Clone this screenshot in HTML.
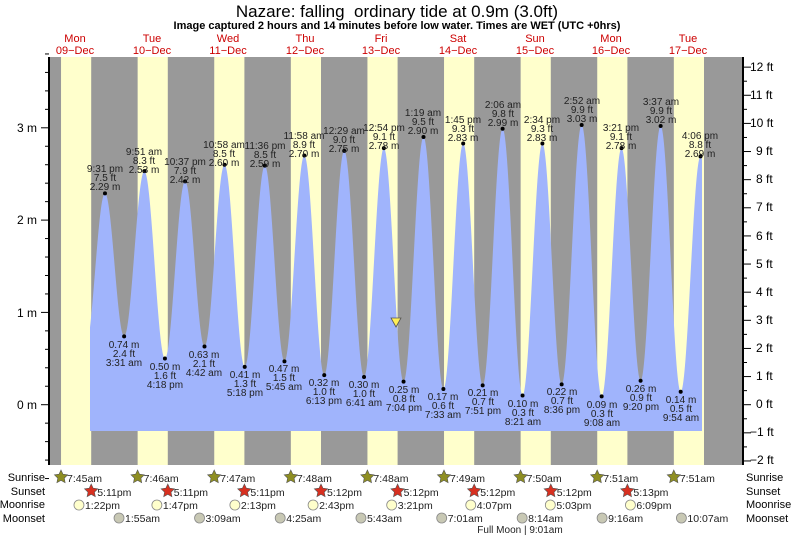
<!DOCTYPE html>
<html><head><meta charset="utf-8"><style>
html,body{margin:0;padding:0;background:#fff}
svg{display:block;font-family:"Liberation Sans",sans-serif}
</style></head><body>
<svg id="s" width="793" height="539" viewBox="0 0 793 539" xmlns="http://www.w3.org/2000/svg">
<rect x="49" y="57" width="694" height="408" fill="#999999"/>
<g id="bands"></g>
<path id="tide" fill="#a0b4fc" d=""/>
<g id="ticks" stroke="#000" stroke-width="1"></g>
<line x1="49" y1="57" x2="49" y2="465" stroke="#000" stroke-width="2"/>
<line x1="743" y1="57" x2="743" y2="465" stroke="#000" stroke-width="2"/>
<g id="dots" fill="#000"></g>
<polygon points="391,318 401,318 396,327" fill="#ffee55" stroke="#555" stroke-width="0.8"/>
<text x="397" y="17" font-size="17" text-anchor="middle">Nazare: falling&#160; ordinary tide at 0.9m (3.0ft)</text>
<text x="397" y="29" font-size="11" font-weight="bold" text-anchor="middle">Image captured 2 hours and 14 minutes before low water. Times are WET (UTC +0hrs)</text>
<g font-size="11" fill="#cc0000" text-anchor="middle">
<text x="75" y="42">Mon</text><text x="75" y="54">09−Dec</text>
<text x="152" y="42">Tue</text><text x="152" y="54">10−Dec</text>
<text x="228" y="42">Wed</text><text x="228" y="54">11−Dec</text>
<text x="305" y="42">Thu</text><text x="305" y="54">12−Dec</text>
<text x="381" y="42">Fri</text><text x="381" y="54">13−Dec</text>
<text x="458" y="42">Sat</text><text x="458" y="54">14−Dec</text>
<text x="535" y="42">Sun</text><text x="535" y="54">15−Dec</text>
<text x="611" y="42">Mon</text><text x="611" y="54">16−Dec</text>
<text x="688" y="42">Tue</text><text x="688" y="54">17−Dec</text>
</g>
<g font-size="12" text-anchor="end">
<text x="37" y="132">3 m</text><text x="37" y="224">2 m</text><text x="37" y="317">1 m</text><text x="37" y="409">0 m</text>
</g>
<g font-size="12">
<text x="750" y="71">12 ft</text><text x="750" y="99">11 ft</text><text x="750" y="127">10 ft</text>
<text x="756" y="155">9 ft</text><text x="756" y="183">8 ft</text><text x="756" y="211">7 ft</text>
<text x="756" y="240">6 ft</text><text x="756" y="268">5 ft</text><text x="756" y="296">4 ft</text>
<text x="756" y="324">3 ft</text><text x="756" y="352">2 ft</text><text x="756" y="380">1 ft</text>
<text x="756" y="408">0 ft</text><text x="750" y="436">−1 ft</text><text x="750" y="464">−2 ft</text>
</g>
<g font-size="10" fill="#222" text-anchor="middle" id="labels">
<text x="105" y="172">9:31 pm</text><text x="105" y="181">7.5 ft</text><text x="105" y="190">2.29 m</text>
<text x="124" y="348">0.74 m</text><text x="124" y="357">2.4 ft</text><text x="124" y="366">3:31 am</text>
<text x="144" y="155">9:51 am</text><text x="144" y="164">8.3 ft</text><text x="144" y="173">2.53 m</text>
<text x="165" y="370">0.50 m</text><text x="165" y="379">1.6 ft</text><text x="165" y="388">4:18 pm</text>
<text x="185" y="165">10:37 pm</text><text x="185" y="174">7.9 ft</text><text x="185" y="183">2.42 m</text>
<text x="204" y="358">0.63 m</text><text x="204" y="367">2.1 ft</text><text x="204" y="376">4:42 am</text>
<text x="224" y="148">10:58 am</text><text x="224" y="157">8.5 ft</text><text x="224" y="166">2.60 m</text>
<text x="245" y="378">0.41 m</text><text x="245" y="387">1.3 ft</text><text x="245" y="396">5:18 pm</text>
<text x="265" y="149">11:36 pm</text><text x="265" y="158">8.5 ft</text><text x="265" y="167">2.59 m</text>
<text x="284" y="372">0.47 m</text><text x="284" y="381">1.5 ft</text><text x="284" y="390">5:45 am</text>
<text x="304" y="139">11:58 am</text><text x="304" y="148">8.9 ft</text><text x="304" y="157">2.70 m</text>
<text x="324" y="386">0.32 m</text><text x="324" y="395">1.0 ft</text><text x="324" y="404">6:13 pm</text>
<text x="344" y="134">12:29 am</text><text x="344" y="143">9.0 ft</text><text x="344" y="152">2.75 m</text>
<text x="364" y="388">0.30 m</text><text x="364" y="397">1.0 ft</text><text x="364" y="406">6:41 am</text>
<text x="384" y="131">12:54 pm</text><text x="384" y="140">9.1 ft</text><text x="384" y="149">2.78 m</text>
<text x="404" y="393">0.25 m</text><text x="404" y="402">0.8 ft</text><text x="404" y="411">7:04 pm</text>
<text x="423" y="116">1:19 am</text><text x="423" y="125">9.5 ft</text><text x="423" y="134">2.90 m</text>
<text x="443" y="400">0.17 m</text><text x="443" y="409">0.6 ft</text><text x="443" y="418">7:33 am</text>
<text x="463" y="123">1:45 pm</text><text x="463" y="132">9.3 ft</text><text x="463" y="141">2.83 m</text>
<text x="483" y="396">0.21 m</text><text x="483" y="405">0.7 ft</text><text x="483" y="414">7:51 pm</text>
<text x="503" y="108">2:06 am</text><text x="503" y="117">9.8 ft</text><text x="503" y="126">2.99 m</text>
<text x="523" y="407">0.10 m</text><text x="523" y="416">0.3 ft</text><text x="523" y="425">8:21 am</text>
<text x="542" y="123">2:34 pm</text><text x="542" y="132">9.3 ft</text><text x="542" y="141">2.83 m</text>
<text x="562" y="395">0.22 m</text><text x="562" y="404">0.7 ft</text><text x="562" y="413">8:36 pm</text>
<text x="582" y="104">2:52 am</text><text x="582" y="113">9.9 ft</text><text x="582" y="122">3.03 m</text>
<text x="602" y="408">0.09 m</text><text x="602" y="417">0.3 ft</text><text x="602" y="426">9:08 am</text>
<text x="621" y="131">3:21 pm</text><text x="621" y="140">9.1 ft</text><text x="621" y="149">2.78 m</text>
<text x="641" y="392">0.26 m</text><text x="641" y="401">0.9 ft</text><text x="641" y="410">9:20 pm</text>
<text x="661" y="105">3:37 am</text><text x="661" y="114">9.9 ft</text><text x="661" y="123">3.02 m</text>
<text x="681" y="403">0.14 m</text><text x="681" y="412">0.5 ft</text><text x="681" y="421">9:54 am</text>
<text x="700" y="139">4:06 pm</text><text x="700" y="148">8.8 ft</text><text x="700" y="157">2.69 m</text>
</g>
<g font-size="11" text-anchor="end">
<text x="45" y="481">Sunrise</text><text x="45" y="495">Sunset</text><text x="45" y="508">Moonrise</text><text x="45" y="522">Moonset</text>
</g>
<g font-size="11">
<text x="746" y="481">Sunrise</text><text x="746" y="495">Sunset</text><text x="746" y="508">Moonrise</text><text x="746" y="522">Moonset</text>
</g>
<g id="astro" font-size="10.5" fill="#222"></g>
<text x="520" y="533" font-size="10" fill="#222" text-anchor="middle">Full Moon | 9:01am</text>
</svg>
<script>
(function(){
var NS="http://www.w3.org/2000/svg";
function el(p,t,a,txt){var e=document.createElementNS(NS,t);for(var k in a)e.setAttribute(k,a[k]);if(txt)e.textContent=txt;document.getElementById(p).appendChild(e);return e;}
var B=36.3,D=76.6,S=D/24;
function X(d,h){return B+D*d+h*S;}
function Y(m){return 404.7-92.3*m;}
for(var d=0;d<9;d++){var a=X(d,7.75),b=X(d,17.2);el("bands","rect",{x:a,y:57,width:b-a,height:408,fill:"#ffffcc"});}
var E=[[0,15.3,0.6],[0,21.517,2.29],[1,3.517,0.74],[1,9.85,2.53],[1,16.3,0.50],[1,22.617,2.42],[2,4.7,0.63],[2,10.967,2.60],[2,17.3,0.41],[2,23.6,2.59],[3,5.75,0.47],[3,11.967,2.70],[3,18.217,0.32],[4,0.483,2.75],[4,6.683,0.30],[4,12.9,2.78],[4,19.067,0.25],[5,1.317,2.90],[5,7.55,0.17],[5,13.75,2.83],[5,19.85,0.21],[6,2.1,2.99],[6,8.35,0.10],[6,14.567,2.83],[6,20.6,0.22],[7,2.867,3.03],[7,9.133,0.09],[7,15.35,2.78],[7,21.333,0.26],[8,3.617,3.02],[8,9.9,0.14],[8,16.1,2.69],[8,22.3,0.2]];
var P=E.map(function(e){return [X(e[0],e[1]),e[2]];});
var x0=90,x1=702,pts=[];
for(var x=x0;x<=x1;x+=0.5){
 for(var i=0;i<P.length-1;i++){if(x>=P[i][0]&&x<=P[i+1][0])break;}
 var p=P[i],q=P[i+1],t=(x-p[0])/(q[0]-p[0]);
 var m=p[1]+(q[1]-p[1])*(1-Math.cos(Math.PI*t))/2;
 pts.push(x.toFixed(1)+","+Y(m).toFixed(1));
}
document.getElementById("tide").setAttribute("d","M"+x0+",431 L"+pts.join(" L")+" L"+x1+",431 Z");
for(var i=1;i<P.length-1;i++)el("dots","circle",{cx:P[i][0],cy:Y(P[i][1]),r:2});
for(var v=-0.8;v<=3.81;v+=0.2){var y=Y(v),maj=Math.abs(v-Math.round(v))<0.01;el("ticks","line",{x1:maj?41:45,x2:49,y1:y,y2:y});}
for(var f=-2;f<=12.01;f+=0.5){var y=404.7-28.13*f,maj=Math.abs(f-Math.round(f))<0.01;el("ticks","line",{x1:743,x2:maj?751:747,y1:y,y2:y});}
function star(cx,cy,col){var s="";for(var k=0;k<10;k++){var r=k%2?3.4:7,a=-Math.PI/2+k*Math.PI/5;s+=(cx+r*Math.cos(a)).toFixed(1)+","+(cy+r*Math.sin(a)).toFixed(1)+" ";}el("astro","polygon",{points:s,fill:col,stroke:"#555","stroke-width":0.6});}
var sr=["7:45am","7:46am","7:47am","7:48am","7:48am","7:49am","7:50am","7:51am","7:51am"];
for(var d=0;d<9;d++){var x=X(d,7.75);star(x,477,"#8e8e22");el("astro","text",{x:x+6,y:482},sr[d]);}
var ss=["5:11pm","5:11pm","5:11pm","5:12pm","5:12pm","5:12pm","5:12pm","5:13pm"];
for(var d=0;d<8;d++){var x=X(d,17.2);star(x,491,"#d83020");el("astro","text",{x:x+6,y:496},ss[d]);}
var mr=[[13.37,"1:22pm"],[13.78,"1:47pm"],[14.22,"2:13pm"],[14.72,"2:43pm"],[15.35,"3:21pm"],[16.12,"4:07pm"],[17.05,"5:03pm"],[18.15,"6:09pm"]];
for(var d=0;d<8;d++){var x=X(d,mr[d][0]);el("astro","circle",{cx:x,cy:505,r:5,fill:"#ffffcc",stroke:"#888","stroke-width":0.8});el("astro","text",{x:x+6,y:509},mr[d][1]);}
var ms=[[1.92,"1:55am"],[3.15,"3:09am"],[4.42,"4:25am"],[5.72,"5:43am"],[7.02,"7:01am"],[8.23,"8:14am"],[9.27,"9:16am"],[10.12,"10:07am"]];
for(var d=0;d<8;d++){var x=X(d+1,ms[d][0]);el("astro","circle",{cx:x,cy:518,r:5,fill:"#c8c8b4",stroke:"#888","stroke-width":0.8});el("astro","text",{x:x+6,y:522},ms[d][1]);}
})();
</script>
</body></html>
